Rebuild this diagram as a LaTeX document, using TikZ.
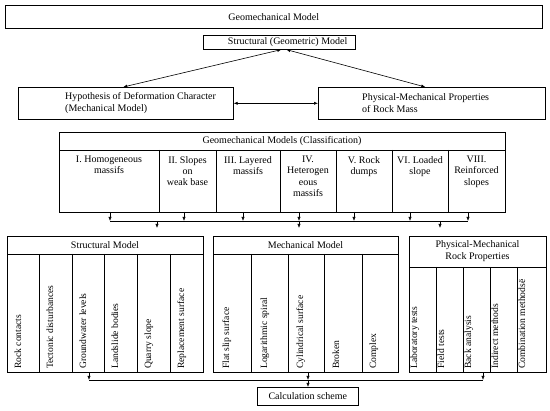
\documentclass[tikz,border=0pt]{standalone}
\usepackage{fontspec}
\setmainfont{Liberation Serif}
\usetikzlibrary{arrows.meta,calc}
\begin{document}
\begin{tikzpicture}[x=1pt,y=-1pt,
  box/.style={draw, line width=0.6pt, inner sep=0pt, anchor=north west},
  txt/.style={inner sep=0pt, font=\fontsize{10}{12}\selectfont, align=center},
  coltxt/.style={inner sep=0pt, anchor=north, font=\fontsize{10}{11.2}\selectfont, align=center},
  rot/.style={inner sep=0pt, rotate=90, anchor=base west, font=\fontsize{9.6}{11}\selectfont},
  ln/.style={line width=0.6pt},
  arr/.style={line width=0.6pt, -{Latex[length=4pt,width=3.2pt]}},
  darr/.style={line width=0.6pt, {Latex[length=4pt,width=3.2pt]}-{Latex[length=4pt,width=3.2pt]}}]
\useasboundingbox (0,0) rectangle (550,411);
% top
\node[box, minimum width=537pt, minimum height=23pt] (top) at (5,5) {};
\node[txt] (toptxt) at (top.center) {Geomechanical Model};
\node[box, minimum width=152pt, minimum height=14pt] (sgm) at (203,35) {};
\node[txt, anchor=east] (sgmtxt) at ([xshift=-8pt]sgm.east) {Structural (Geometric) Model};
\node[box, minimum width=215pt, minimum height=32pt] (hyp) at (18,87) {};
\node[txt, anchor=west, align=left] (hyptxt) at ([xshift=47pt]hyp.west) {Hypothesis of Deformation Character\\(Mechanical Model)};
\node[box, minimum width=227pt, minimum height=32pt] (phys) at (318,87) {};
\node[txt, anchor=west, align=left] (physt) at ([xshift=44pt]phys.west) {Physical-Mechanical Properties\\of Rock Mass};
\draw[darr] ([xshift=2pt]sgm.south) -- ([xshift=-2.5pt]hyp.north);
\draw[darr] ([xshift=7pt]sgm.south) -- ([xshift=-6.5pt]phys.north);
\draw[darr] (hyp.east) -- (phys.west);
% classification
\node[box, minimum width=446pt, minimum height=80pt] (cls) at (59,132) {};
\draw[ln] (59,150) -- (505,150);
\foreach \x in {159,216,280,336,392,448} \draw[ln] (\x,150) -- (\x,212);
\node[txt] (clsh) at (282,141.5) {Geomechanical Models (Classification)};
\node[coltxt] (c1) at (109,156) {I. Homogeneous\\massifs};
\node[coltxt] (c2) at (187.5,156) {II. Slopes\\on\\weak base};
\node[coltxt] (c3) at (248,156) {III. Layered\\massifs};
\node[coltxt] (c4) at (308,156) {IV.\\Heterogen\\eous\\massifs};
\node[coltxt] (c5) at (364,156) {V. Rock\\dumps};
\node[coltxt] (c6) at (420,156) {VI. Loaded\\slope};
\node[coltxt] (c7) at (476.5,156) {VIII.\\Reinforced\\slopes};
\coordinate (hl) at (110,221);
\coordinate (hr) at (468,221);
\draw[ln] (hl) -- (hr);
\foreach \x in {110,184,243,299,354,410,468} \draw[arr] (\x,212) -- (\x,221);
\foreach \x in {157,299,440} \draw[arr] (\x,221) -- (\x,228);
% bottom boxes
\node[box, minimum width=196pt, minimum height=136pt] (sm) at (7,236) {};
\draw[ln] (7,254) -- (203,254);
\foreach \x in {39,72,104,137,170} \draw[ln] (\x,254) -- (\x,372);
\node[txt] (smh) at (105,245) {Structural Model};
\node[rot] (s1) at (21,369) {Rock contacts};
\node[rot] (s2) at (53,369) {Tectonic disturbances};
\node[rot] (s3) at (86,369) {Groundwater levels};
\node[rot] (s4) at (118,369) {Landslide bodies};
\node[rot] (s5) at (151,369) {Quarry slope};
\node[rot] (s6) at (184,369) {Replacement surface};
\node[box, minimum width=185pt, minimum height=136pt] (mm) at (213,236) {};
\draw[ln] (213,254) -- (398,254);
\foreach \x in {251,288,324,362} \draw[ln] (\x,254) -- (\x,372);
\node[txt] (mmh) at (305.5,245) {Mechanical Model};
\node[rot] (m1) at (229,369) {Flat slip surface};
\node[rot] (m2) at (267,369) {Logarithmic spiral};
\node[rot] (m3) at (303,369) {Cylindrical surface};
\node[rot] (m4) at (339,369) {Broken};
\node[rot] (m5) at (376,369) {Complex};
\node[box, minimum width=137pt, minimum height=136pt] (pm) at (409,236) {};
\draw[ln] (409,267) -- (546,267);
\foreach \x in {436,463,490,517} \draw[ln] (\x,267) -- (\x,372);
\node[txt] (pmh) at (477.5,251.5) {Physical-Mechanical\\Rock Properties};
\node[rot] (p1) at (417,369) {Laboratory tests};
\node[rot] (p2) at (444,369) {Field tests};
\node[rot] (p3) at (471,369) {Back analysis};
\node[rot] (p4) at (498,369) {Indirect methods};
\node[rot] (p5) at (525,369) {Combination methodsë};
% calc
\node[box, minimum width=101pt, minimum height=18pt] (calc) at (257,387) {};
\node[txt] (calct) at (calc.center) {Calculation scheme};
\coordinate (bl) at (89,380);
\coordinate (br) at (483,380);
\draw[ln] (bl) -- (br);
\draw[arr] (sm.south west -| bl) -- (bl);
\draw[arr] (308,372) -- (308,380);
\draw[arr] (sm.south west -| br) -- (br);
\draw[arr] (308,380) -- (calc.north -| 308,0);
\end{tikzpicture}
\end{document}
